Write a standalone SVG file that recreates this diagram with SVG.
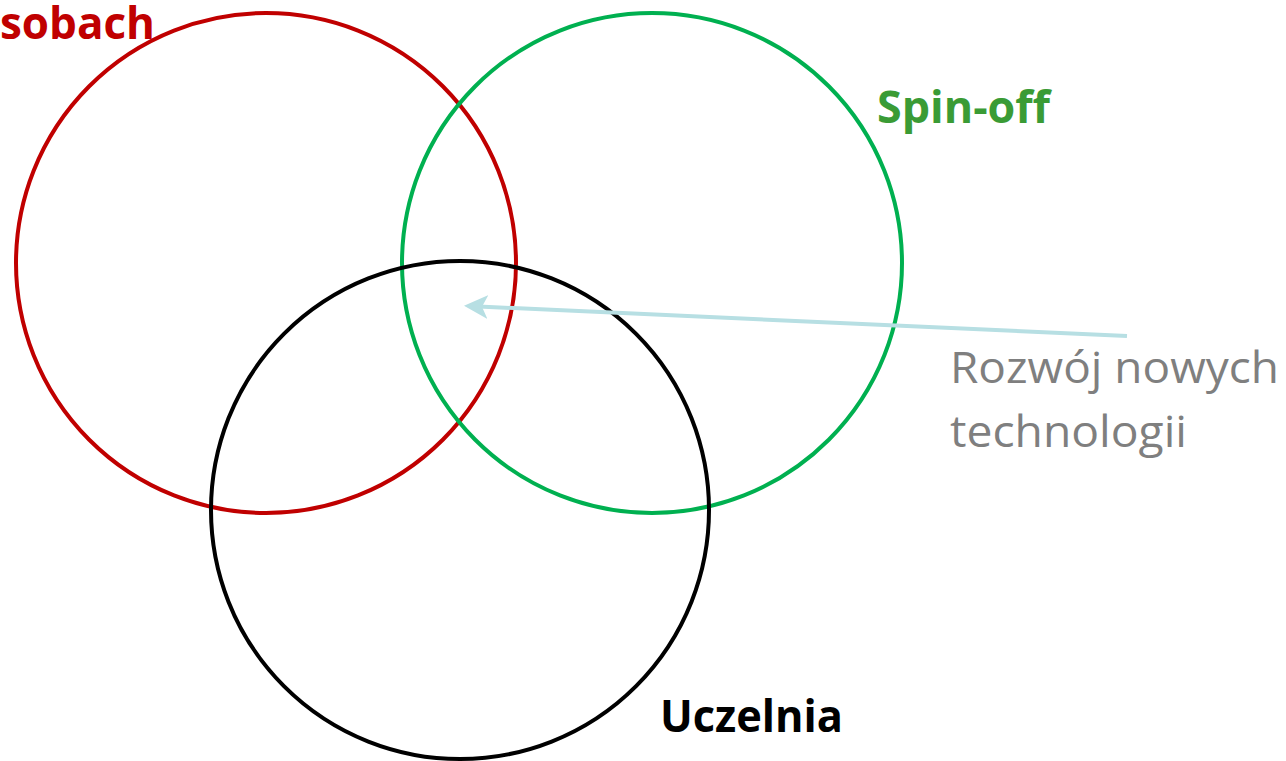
<svg xmlns="http://www.w3.org/2000/svg" width="1286" height="761" viewBox="0 0 1286 761">
<style>
.c{fill:none;stroke-width:4}
.lb{font-family:"Open Sans","Liberation Sans",sans-serif;font-weight:bold;font-size:45px}
.gr{font-family:"Open Sans","Liberation Sans",sans-serif;font-size:43px;fill:#7f7f7f}
</style>
<defs>
<marker id="ah" markerWidth="6" markerHeight="6" refX="5" refY="3" orient="auto" markerUnits="strokeWidth">
<path d="M6,3 L0,0 L1.5,3 L0,6 Z" fill="#b7dfe3"/>
</marker>
</defs>
<rect width="1286" height="761" fill="#fff"/>
<g id="sobach">
<circle class="c" cx="266" cy="263" r="250" stroke="#c00000"/>
<text class="lb" x="0" y="39" font-size="43" fill="#c00000" textLength="155" lengthAdjust="spacingAndGlyphs">sobach</text>
</g>
<g id="spinoff">
<circle class="c" cx="652" cy="263" r="250" stroke="#00b050"/>
<text class="lb" x="877" y="123" fill="#3a9b35" textLength="173" lengthAdjust="spacingAndGlyphs">Spin-off</text>
</g>
<g id="uczelnia">
<circle class="c" cx="460" cy="510" r="249" stroke="#000"/>
<text class="lb" x="660" y="732" fill="#000" textLength="183" lengthAdjust="spacingAndGlyphs">Uczelnia</text>
</g>
<g id="label">
<text class="gr" x="950" y="383" textLength="329" lengthAdjust="spacingAndGlyphs">Rozwój nowych</text>
<text class="gr" x="950" y="447" textLength="237" lengthAdjust="spacingAndGlyphs">technologii</text>
</g>
<g id="connectors">
<line x1="1127" y1="336" x2="468" y2="306" stroke="#b7dfe3" stroke-width="4" marker-end="url(#ah)"/>
</g>
</svg>
